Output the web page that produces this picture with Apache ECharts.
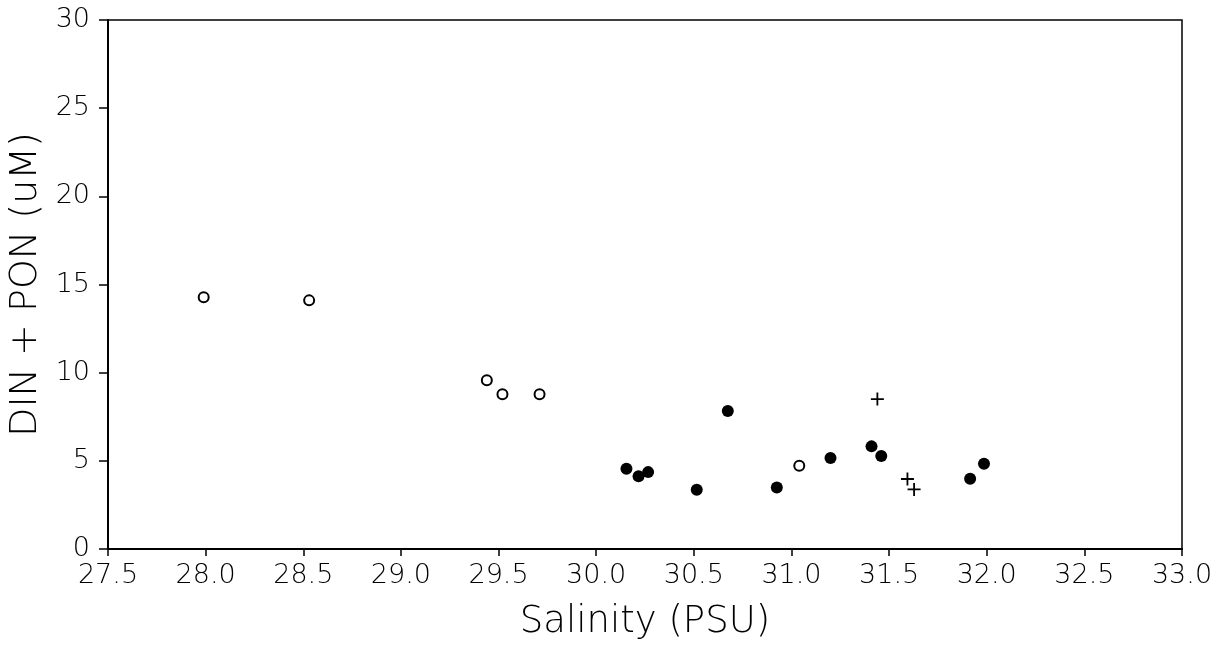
<!DOCTYPE html>
<html><head><meta charset="utf-8">
<script src="https://cdn.jsdelivr.net/npm/echarts@6/dist/echarts.min.js"></script>
<style>html,body{margin:0;padding:0;background:#fff}#c{width:1221px;height:646px}</style>
</head><body><div id="c"></div>
<script>
const openCircles = [[27.99,14.28],[28.53,14.1],[29.44,9.57],[29.52,8.78],[29.71,8.78],[31.04,4.72]];
const filledCircles = [[30.155,4.55],[30.217,4.12],[30.266,4.36],[30.515,3.36],[30.674,7.82],[30.925,3.49],[31.20,5.16],[31.41,5.82],[31.46,5.27],[31.915,3.98],[31.986,4.83]];
const crosses = [[31.44,8.5],[31.594,3.97],[31.628,3.38]];
const xTicks = ['27.5','28.0','28.5','29.0','29.5','30.0','30.5','31.0','31.5','32.0','32.5','33.0'];
const yTicks = ['0','5','10','15','20','25','30'];
const xName = 'Salinity (PSU)';
const yName = 'DIN + PON (uM)';

const FONT = 'DejaVu Sans';
const chart = echarts.init(document.getElementById('c'));
const crossPath = 'path://M-1,0L1,0M0,-1L0,1';
chart.setOption({
  animation:false,
  backgroundColor:'#fff',
  grid:{left:108,right:39,top:20,bottom:97,outerBoundsMode:'none',containLabel:false,
    show:true,borderColor:'#000',borderWidth:1.5,backgroundColor:'transparent'},
  xAxis:{type:'value',min:27.5,max:33,interval:0.5,
    name:xName,nameLocation:'middle',nameGap:55,
    nameTextStyle:{fontFamily:FONT,fontSize:37,fontWeight:200,color:'#000'},
    axisLine:{show:true,onZero:false,lineStyle:{color:'#000',width:2}},
    axisTick:{show:true,inside:false,length:7,lineStyle:{color:'#000',width:1.5}},
    axisLabel:{fontFamily:FONT,fontSize:27,fontWeight:200,color:'#000',margin:13,
      formatter:(v)=>{const i=Math.round((v-27.5)/0.5);return xTicks[i]!==undefined?xTicks[i]:'';}},
    splitLine:{show:false}},
  yAxis:{type:'value',min:0,max:30,interval:5,
    name:yName,nameLocation:'middle',nameGap:56,
    nameTextStyle:{fontFamily:FONT,fontSize:38,fontWeight:200,color:'#000'},
    axisLine:{show:true,onZero:false,lineStyle:{color:'#000',width:2}},
    axisTick:{show:true,inside:false,length:9,lineStyle:{color:'#000',width:1.5}},
    axisLabel:{fontFamily:FONT,fontSize:27,fontWeight:200,color:'#000',margin:18,
      formatter:(v)=>{const i=Math.round(v/5);return yTicks[i]!==undefined?yTicks[i]:'';}},
    splitLine:{show:false}},
  series:[
    {type:'scatter',data:openCircles,symbol:'circle',symbolSize:10,
      itemStyle:{color:'#fff',borderColor:'#000',borderWidth:2,opacity:1}},
    {type:'scatter',data:filledCircles,symbol:'circle',symbolSize:12,
      itemStyle:{color:'#000',opacity:1}},
    {type:'scatter',data:crosses,symbol:crossPath,symbolSize:13,
      itemStyle:{color:'none',borderColor:'#000',borderWidth:1.8,opacity:1}}
  ]
});
</script></body></html>
